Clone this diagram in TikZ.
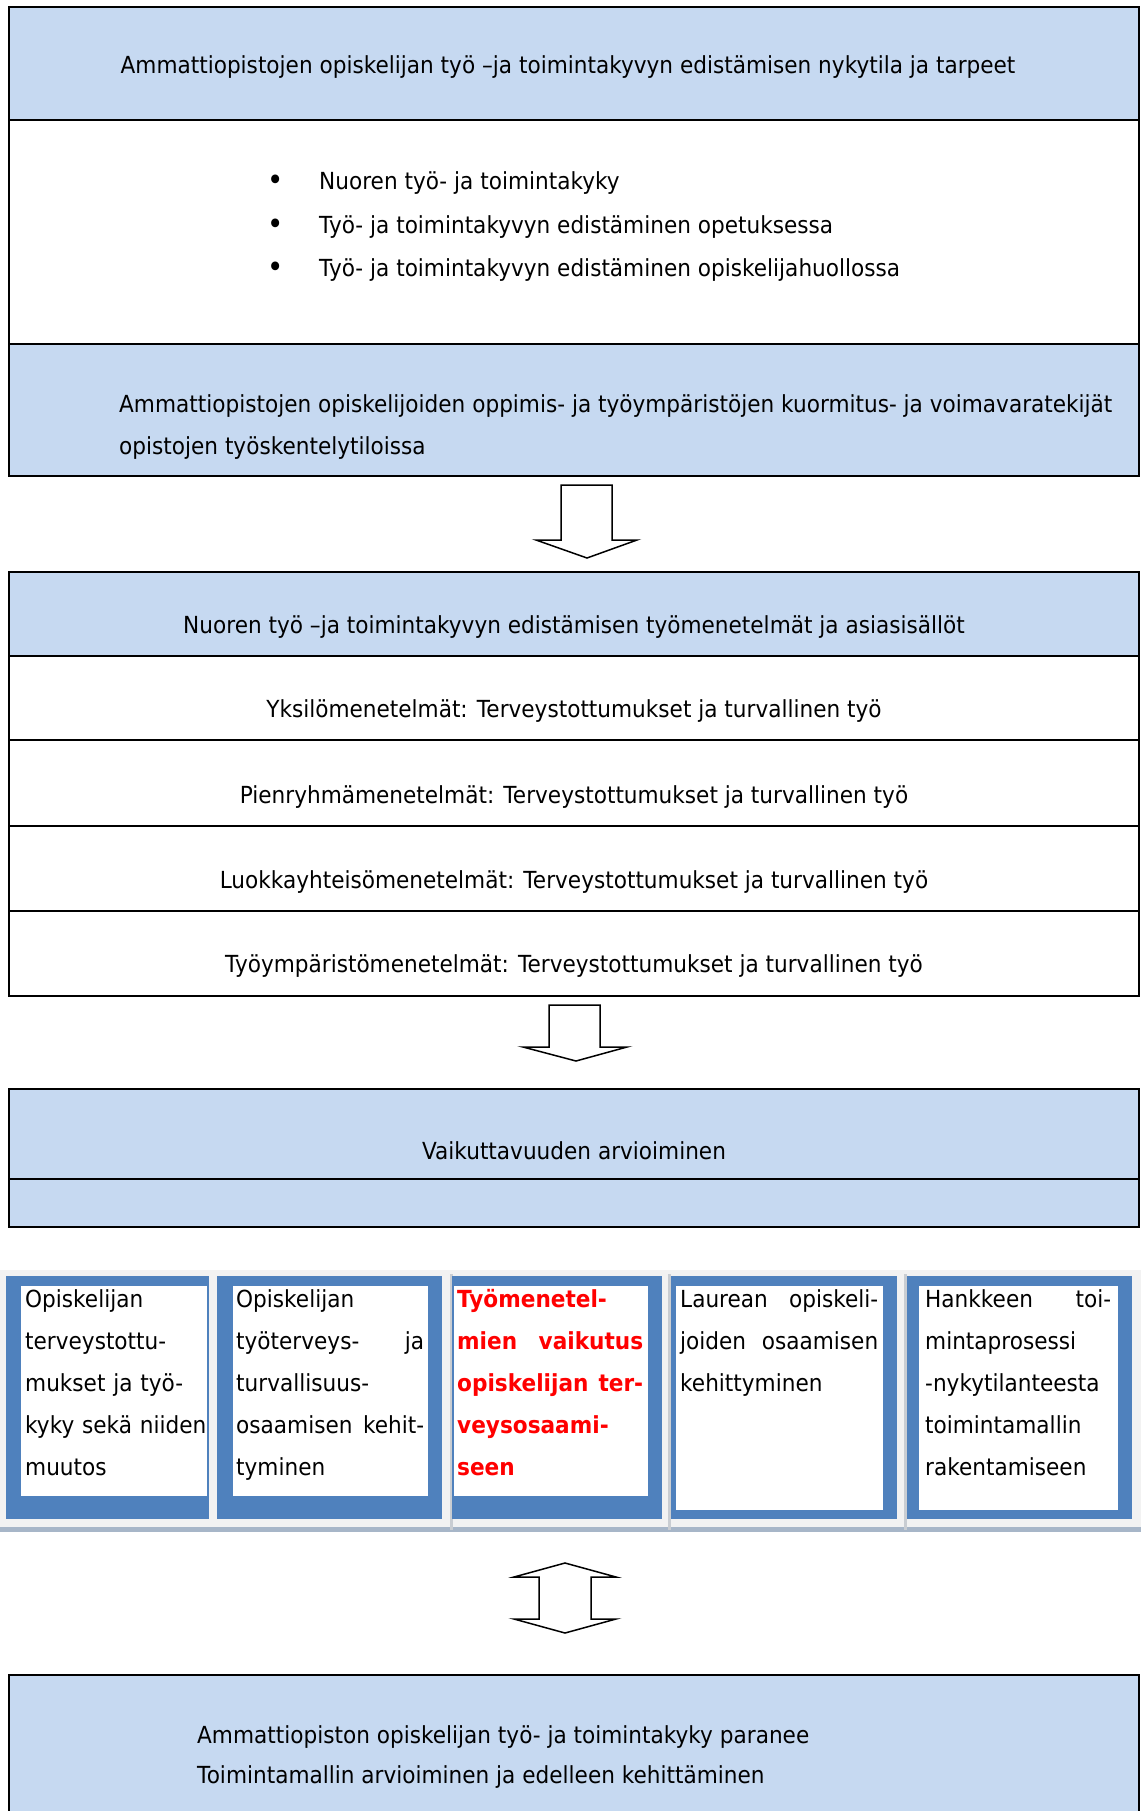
\documentclass[tikz,border=0pt]{standalone}
\usepackage{fontspec}
\setmainfont{DejaVu Sans}[FakeStretch=0.92]
\definecolor{paleblue}{HTML}{C6D9F1}
\definecolor{boxblue}{HTML}{4F81BD}
\definecolor{stripgray}{HTML}{F2F2F2}
\definecolor{shadegray}{HTML}{A7B6C8}
\definecolor{sepgray}{HTML}{C9CDD2}
\definecolor{hotred}{HTML}{FF0000}
\begin{document}
\begin{tikzpicture}[x=1pt,y=-1pt,
  frame/.style={draw=black,line width=2pt},
  band/.style={fill=paleblue},
  maintext/.style={font=\fontsize{23.5}{28}\selectfont,inner sep=0pt},
  bulletmark/.style={font=\fontsize{30}{30}\selectfont,inner sep=0pt},
  boxtext/.style={font=\fontsize{23.5}{42}\selectfont,align=left,anchor=north west,inner sep=0pt},
  blockarrow/.style={draw=black,line width=1.5pt,fill=white,line join=miter}]
\useasboundingbox (0,0) rectangle (1141,1811);
\fill[white] (0,0) rectangle (1141,1811);

% --- first block: current state and needs
\fill[band] (9,7) rectangle (1139,120);
\fill[band] (9,344) rectangle (1139,476);
\draw[frame] (9,7) rectangle (1139,476);
\draw[frame] (9,120) -- (1139,120);
\draw[frame] (9,344) -- (1139,344);
\node[maintext] (nyky) at (568,67) {Ammattiopistojen opiskelijan työ –ja toimintakyvyn edistämisen nykytila ja tarpeet};
\node[bulletmark] (b1) at (276,183) {•};
\node[bulletmark] (b2) at (276,227) {•};
\node[bulletmark] (b3) at (276,270) {•};
\node[maintext,anchor=west] (l1) at (319,183) {Nuoren työ- ja toimintakyky};
\node[maintext,anchor=west] (l2) at (319,227) {Työ- ja toimintakyvyn edistäminen opetuksessa};
\node[maintext,anchor=west] (l3) at (319,270) {Työ- ja toimintakyvyn edistäminen opiskelijahuollossa};
\node[maintext,anchor=west] (kuorm1) at (119,406) {Ammattiopistojen opiskelijoiden oppimis- ja työympäristöjen kuormitus- ja voimavaratekijät};
\node[maintext,anchor=west] (kuorm2) at (119,448) {opistojen työskentelytiloissa};

% --- arrow 1
\draw[blockarrow] (561,485) -- (612,485) -- (612,540) -- (637,540) -- (587,558)
  -- (536,540) -- (561,540) -- cycle;

% --- second block: methods
\fill[band] (9,572) rectangle (1139,656);
\draw[frame] (9,572) rectangle (1139,996);
\foreach \yy in {656,740,826,911} \draw[frame] (9,\yy) -- (1139,\yy);
\node[maintext] (menet) at (574,627) {Nuoren työ –ja toimintakyvyn edistämisen työmenetelmät ja asiasisällöt};
\node[maintext] (yks) at (574,711) {Yksilömenetelmät: Terveystottumukset ja turvallinen työ};
\node[maintext] (pien) at (574,797) {Pienryhmämenetelmät: Terveystottumukset ja turvallinen työ};
\node[maintext] (luok) at (574,882) {Luokkayhteisömenetelmät: Terveystottumukset ja turvallinen työ};
\node[maintext] (tyoy) at (574,966) {Työympäristömenetelmät: Terveystottumukset ja turvallinen työ};

% --- arrow 2
\draw[blockarrow] (549,1005) -- (600,1005) -- (600,1047) -- (627,1047) -- (576,1061)
  -- (523,1047) -- (549,1047) -- cycle;

% --- third block: evaluation
\fill[band] (9,1089) rectangle (1139,1227);
\draw[frame] (9,1089) rectangle (1139,1227);
\draw[frame] (9,1179) -- (1139,1179);
\node[maintext] (vaik) at (574,1151) {Vaikuttavuuden arvioiminen};

% --- row of five outcome boxes
\fill[stripgray] (0,1270) rectangle (1141,1530);
\fill[shadegray] (0,1527) rectangle (1141,1532);
\foreach \xx in {451,669,905} \fill[sepgray] (\xx-1.5,1274) rectangle (\xx+1.5,1530);
\fill[boxblue] (6,1276) rectangle (209,1519);
\fill[white] (21,1286) rectangle (207,1496);
\fill[boxblue] (217,1276) rectangle (442,1519);
\fill[white] (233,1286) rectangle (428,1496);
\fill[boxblue] (452,1276) rectangle (662,1519);
\fill[white] (454,1286) rectangle (648,1496);
\fill[boxblue] (671,1276) rectangle (897,1519);
\fill[white] (676,1286) rectangle (883,1510);
\fill[boxblue] (907,1276) rectangle (1132,1519);
\fill[white] (919,1286) rectangle (1118,1510);

\node[boxtext,text width=180pt] (o1) at (25,1289) {Opiskelijan\\terveystottu-\\mukset ja työ-\\\makebox[176pt][s]{kyky sekä niiden}\\muutos};
\node[boxtext,text width=188pt] (o2) at (236,1289) {Opiskelijan\\työterveys-\hfill ja\\turvallisuus-\\osaamisen\hfill kehit-\\tyminen};
\node[boxtext,text width=186pt,text=hotred,font=\fontsize{23.5}{42}\selectfont\bfseries] (o3) at (457,1289) {Työmenetel-\\mien\hfill vaikutus\\opiskelijan\hfill ter-\\veysosaami-\\seen};
\node[boxtext,text width=198pt] (o4) at (680,1289) {Laurean\hfill opiskeli-\\joiden\hfill osaamisen\\kehittyminen};
\node[boxtext,text width=186pt] (o5) at (925,1289) {Hankkeen\hfill toi-\\mintaprosessi\\-nykytilanteesta\\toimintamallin\\rakentamiseen};

% --- two-way arrow
\draw[blockarrow] (565,1563) -- (616,1577) -- (591,1577) -- (591,1619) -- (616,1619)
  -- (565,1633) -- (514,1619) -- (539,1619) -- (539,1577) -- (514,1577) -- cycle;

% --- final block: outcome
\fill[band] (9,1675) rectangle (1139,1815);
\draw[frame] (9,1815) -- (9,1675) -- (1139,1675) -- (1139,1815);
\node[maintext,anchor=west] (paran) at (197,1737) {Ammattiopiston opiskelijan työ- ja toimintakyky paranee};
\node[maintext,anchor=west] (arvi) at (197,1777) {Toimintamallin arvioiminen ja edelleen kehittäminen};
\end{tikzpicture}
\end{document}
